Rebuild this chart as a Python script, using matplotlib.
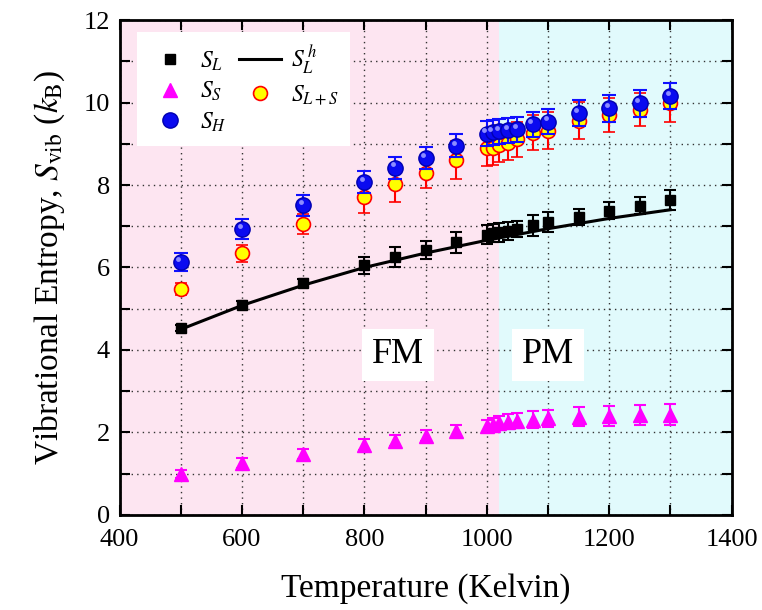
import numpy as np
import matplotlib
matplotlib.use("Agg")
import matplotlib.pyplot as plt
from matplotlib.lines import Line2D

plt.rcParams['font.family'] = ['Liberation Serif', 'DejaVu Serif']
plt.rcParams['mathtext.fontset'] = 'stix'

# temperatures (K)
T = [500, 600, 700, 800, 850, 900, 950, 1000, 1010, 1020, 1035, 1050,
     1075, 1100, 1150, 1200, 1250, 1300]

# S_L (black squares)
SL = [4.53, 5.10, 5.62, 6.05, 6.25, 6.42, 6.61, 6.80, 6.83, 6.85, 6.88, 6.93,
      7.02, 7.10, 7.23, 7.38, 7.50, 7.64]
SL_err = [0.07, 0.09, 0.1, 0.2, 0.25, 0.22, 0.25, 0.22, 0.22, 0.22, 0.22, 0.2,
          0.25, 0.25, 0.2, 0.2, 0.2, 0.25]

# S_S (magenta triangles)
SS = [0.99, 1.25, 1.47, 1.70, 1.80, 1.92, 2.04, 2.15, 2.19, 2.22, 2.26, 2.28,
      2.31, 2.34, 2.38, 2.40, 2.42, 2.43]
SS_err = [0.1, 0.12, 0.12, 0.13, 0.13, 0.14, 0.14, 0.15, 0.16, 0.17, 0.18, 0.18,
          0.2, 0.2, 0.23, 0.24, 0.25, 0.25]

# S_H (blue balls)
SH = [6.13, 6.93, 7.51, 8.07, 8.42, 8.66, 8.95, 9.25, 9.28, 9.30, 9.33, 9.35,
      9.47, 9.54, 9.75, 9.86, 9.98, 10.16]
SH_err = [0.22, 0.24, 0.25, 0.27, 0.27, 0.27, 0.28, 0.3, 0.3, 0.3, 0.3, 0.3,
          0.3, 0.3, 0.32, 0.32, 0.32, 0.32]

# S_L+S (yellow circles, red error bars)
SLS = [5.48, 6.34, 7.05, 7.70, 8.02, 8.30, 8.61, 8.89, 8.91, 8.97, 9.03, 9.11,
       9.27, 9.32, 9.56, 9.70, 9.83, 10.00]
SLS_err = [0.15, 0.2, 0.24, 0.37, 0.44, 0.36, 0.47, 0.42, 0.42, 0.42, 0.42, 0.42,
           0.42, 0.45, 0.45, 0.42, 0.40, 0.47]

# S_L^h (harmonic line)
Th = [500, 600, 700, 800, 900, 1000, 1100, 1200, 1300]
SLh = [4.50, 5.08, 5.57, 6.00, 6.35, 6.66, 6.94, 7.19, 7.40]

Tc = 1020

fig = plt.figure(figsize=(7.62, 6.10), dpi=100)
ax = fig.add_axes([0.157, 0.156, 0.803, 0.811])

ax.axvspan(400, Tc, color='#FDE5F1', zorder=0, lw=0)
ax.axvspan(Tc, 1400, color='#E1FAFC', zorder=0, lw=0)

ax.grid(True, which='both', linestyle=(0, (1, 3)), color='#333333', lw=1.0,
        zorder=1)

ax.errorbar(T, SL, yerr=SL_err, fmt='s', color='black', ms=6.5,
            capsize=4, elinewidth=1.5, capthick=1.5, zorder=4)
ax.plot(Th, SLh, '-', color='black', lw=2.2, zorder=3)
ax.errorbar(T, SS, yerr=SS_err, fmt='^', color='magenta', ms=10,
            capsize=4, elinewidth=1.5, capthick=1.5, zorder=4)
ax.errorbar(T, SLS, yerr=SLS_err, fmt='o', mfc='yellow', mec='red',
            ecolor='red', ms=10, mew=1.2, capsize=4, elinewidth=1.5,
            capthick=1.5, zorder=4)
ax.errorbar(T, SH, yerr=SH_err, fmt='o', mfc='#0a0af0', mec='#0000b0',
            ecolor='#1010ff', ms=11, capsize=5, elinewidth=1.5,
            capthick=1.5, zorder=5)
ax.plot(np.array(T) - 4, np.array(SH) + 0.08, 'o', color='#8c8cff', ms=3.5,
        mew=0, zorder=6)

ax.text(855, 3.88, 'FM', fontsize=26, ha='center', va='center',
        bbox=dict(facecolor='white', edgecolor='none', pad=7), zorder=7)
ax.text(1100, 3.88, 'PM', fontsize=26, ha='center', va='center',
        bbox=dict(facecolor='white', edgecolor='none', pad=7), zorder=7)

# legend proxies (plain markers, no error bars)
hL = Line2D([], [], ls='none', marker='s', color='black', ms=6.5)
hS = Line2D([], [], ls='none', marker='^', color='magenta', ms=10)
hH = Line2D([], [], ls='none', marker='o', mfc='#0a0af0', mec='#0000b0', ms=11)
hh = Line2D([], [], ls='-', color='black', lw=2.2)
hLS = Line2D([], [], ls='none', marker='o', mfc='yellow', mec='red', ms=10,
             mew=1.2)
leg = ax.legend([hL, hS, hH, hh, hLS],
                [r'$S_L$', r'$S_S$', r'$S_H$', r'$S_L^{\,h}$', r'$S_{L+S}$'],
                ncol=2, loc='upper left', bbox_to_anchor=(0.02, 0.985),
                frameon=True, fancybox=False, fontsize=17, handlelength=1.8,
                columnspacing=0.5, borderpad=0.5, labelspacing=0.3,
                handletextpad=0.4, borderaxespad=0.2)
leg.get_frame().set_edgecolor('none')
leg.get_frame().set_facecolor('white')
leg.get_frame().set_alpha(1)
leg.set_zorder(8)

ax.set_xlim(400, 1400)
ax.set_ylim(0, 12)
ax.set_xticks(np.arange(400, 1401, 200))
ax.set_xticks(np.arange(500, 1400, 200), minor=True)
ax.set_yticks(np.arange(0, 13, 2))
ax.set_yticks(np.arange(1, 12, 2), minor=True)
ax.tick_params(which='both', direction='in', top=True, right=True,
               length=7, width=1.5, labelsize=19)
ax.tick_params(axis='x', which='major', pad=10)
ax.tick_params(axis='y', which='major', pad=7)
for s in ax.spines.values():
    s.set_linewidth(2)
    s.set_zorder(10)

ax.set_xlabel('Temperature (Kelvin)', fontsize=24, labelpad=16)
ax.set_ylabel(r'Vibrational Entropy, $S_{\rm vib}$ ($k_{\rm B}$)', fontsize=24,
              labelpad=12)

fig.savefig('out.png', dpi=100)
